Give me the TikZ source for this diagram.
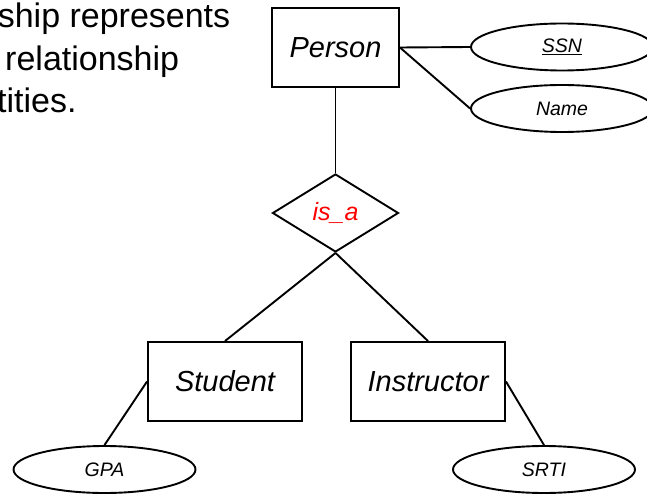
\documentclass[tikz,border=0pt]{standalone}
\usepackage{fontspec}
\setmainfont{Liberation Sans}
\usetikzlibrary{shapes.geometric}

\begin{document}
\begin{tikzpicture}[x=1pt,y=-1pt]
\tikzstyle{every node}+=[inner sep=0pt]
\tikzstyle{entity}=[draw=black, line width=1.9pt, rectangle, minimum height=79pt, font=\fontsize{29}{34}\selectfont\itshape]
\tikzstyle{attrib}=[draw=black, line width=1.9pt, ellipse, minimum width=182pt, minimum height=47pt, font=\fontsize{19.5}{23}\selectfont\itshape]
\tikzstyle{relation}=[draw=black, line width=1.9pt, diamond, minimum width=126pt, minimum height=78pt, text=red, font=\fontsize{25}{30}\selectfont\itshape]
\tikzstyle{slidetext}=[anchor=base west, font=\fontsize{34}{40}\selectfont]
\tikzstyle{link}=[black, line width=1.9pt]
\useasboundingbox (0,0) rectangle (647,494);
\clip (0,0) rectangle (647,494);
\node [slidetext] (lineone) at (-2.4,28) {ship represents};
\node [slidetext] (linetwo) at (-4.4,70.5) {\ relationship};
\node [slidetext] (linethree) at (-3,113) {tities.};
\node [entity, minimum width=127pt] (person) at (335.5,47.5) {Person};
\node [attrib] (ssn) at (562,47) {\underline{SSN}};
\node [attrib] (name) at (562,108.5) {Name};
\node [relation] (isa) at (335.5,213) {is\_a};
\node [entity, minimum width=154pt] (student) at (225,381.5) {Student};
\node [entity, minimum width=154pt] (instructor) at (428,381.5) {Instructor};
\node [attrib] (gpa) at (104.5,469.5) {GPA};
\node [attrib] (srti) at (544,469.5) {SRTI};
\draw [link] (person.east) -- (ssn.west);
\draw [link] (person.east) -- (name.west);
\draw [link] (person.south) -- (isa.north);
\draw [link] (isa.south) -- (student.north);
\draw [link] (isa.south) -- (instructor.north);
\draw [link] (student.west) -- (gpa.north);
\draw [link] (instructor.east) -- (srti.north);
\end{tikzpicture}
\end{document}
